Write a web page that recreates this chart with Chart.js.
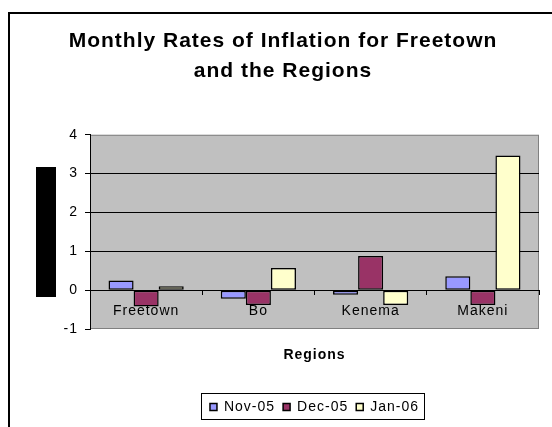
<!DOCTYPE html>
<html>
<head>
<meta charset="utf-8">
<script src="https://cdn.jsdelivr.net/npm/chart.js@4.4.0/dist/chart.umd.min.js"></script>
<style>
  html, body { margin: 0; padding: 0; background: #fff; overflow: hidden; }
  #chart { display: block; }
</style>
</head>
<body>
<canvas id="chart" width="552" height="427"></canvas>
<script>
const regions = ["Freetown", "Bo", "Kenema", "Makeni"];
const seriesNames = ["Nov-05", "Dec-05", "Jan-06"];
const nov05 = [0.25, -0.22, -0.12, 0.36];
const dec05 = [-0.42, -0.38, 0.88, -0.38];
const jan06 = [0.1, 0.57, -0.38, 3.47];
const yMin = -1;
const yMax = 4;
const yStep = 1;

const colors = ["#9999FF", "#993366", "#FFFFCC"];
const font = "'Liberation Sans', Arial, sans-serif";

// excel-ish text: a bit of tracking on everything
function spacing(chart) {
    chart.ctx.letterSpacing = "1px";
}

const decor = {
    id: "decor",
    beforeUpdate: spacing,
    beforeLayout: spacing,
    beforeDraw(chart) {
        const ctx = chart.ctx;
        const a = chart.chartArea;
        spacing(chart);
        ctx.save();
        ctx.fillStyle = "#fff";
        ctx.fillRect(0, 0, chart.width, chart.height);
        // outer frame (runs off the right / bottom)
        ctx.fillStyle = "#000";
        ctx.fillRect(8, 12, 2, chart.height);
        ctx.fillRect(8, 12, chart.width, 2);
        // blacked out axis title
        ctx.fillRect(36, 167, 20, 130);
        // plot area
        ctx.fillStyle = "#C0C0C0";
        ctx.fillRect(a.left, a.top, a.right - a.left, a.bottom - a.top);
        ctx.strokeStyle = "#808080";
        ctx.lineWidth = 1;
        ctx.strokeRect(a.left + 0.5, a.top + 0.5, a.right - a.left - 1, a.bottom - a.top - 1);
        ctx.restore();
    },
    afterDraw(chart) {
        const boxes = chart.legend.legendHitBoxes;
        if (!boxes || !boxes.length) return;
        const ctx = chart.ctx;
        let l = Infinity, r = -Infinity, t = Infinity, b = -Infinity;
        boxes.forEach(h => {
            l = Math.min(l, h.left); r = Math.max(r, h.left + h.width);
            t = Math.min(t, h.top); b = Math.max(b, h.top + h.height);
        });
        ctx.save();
        ctx.strokeStyle = "#000";
        ctx.lineWidth = 1;
        ctx.strokeRect(Math.round(l - 9) + 0.5, Math.round(t - 7) + 0.5, Math.round(r - l + 14), Math.round(b - t + 12));
        ctx.restore();
    }
};

const datasets = [nov05, dec05, jan06].map((vals, i) => ({
    label: seriesNames[i],
    data: vals,
    backgroundColor: colors[i],
    borderColor: "#000",
    borderWidth: 1.5,
    borderSkipped: false,
    categoryPercentage: 0.67,
    barPercentage: 1,
    xAxisID: "x",
    yAxisID: "y"
}));

new Chart(document.getElementById("chart"), {
    type: "bar",
    data: { labels: regions, datasets: datasets },
    plugins: [decor],
    options: {
        responsive: false,
        animation: false,
        layout: { padding: { left: 27, right: 13, top: 0, bottom: 3 } },
        plugins: {
            title: {
                display: true,
                text: ["Monthly Rates of Inflation for Freetown", "and the Regions"],
                color: "#000",
                font: { family: font, size: 21, weight: "bold", lineHeight: 1.4 },
                padding: { top: 27, bottom: 49 }
            },
            legend: {
                position: "bottom",
                fullSize: false,
                labels: {
                    color: "#000",
                    font: { family: font, size: 14 },
                    boxWidth: 7,
                    boxHeight: 7,
                    padding: 8
                }
            },
            tooltip: { enabled: false }
        },
        scales: {
            x: {
                position: { y: 0 },
                grid: {
                    offset: true,
                    drawOnChartArea: false,
                    drawTicks: true,
                    tickLength: 4,
                    tickColor: "#000"
                },
                border: { display: true, color: "#000", width: 1 },
                ticks: {
                    color: "#000",
                    font: { family: font, size: 14 },
                    padding: 9,
                    maxRotation: 0
                }
            },
            x2: {
                type: "category",
                position: "bottom",
                grid: { display: false, drawTicks: false },
                border: { display: false },
                ticks: { display: false },
                title: {
                    display: true,
                    text: "Regions",
                    color: "#000",
                    font: { family: font, size: 14, weight: "bold" },
                    padding: { top: 0, bottom: 28 }
                },
                afterFit(s) { s.height = 63; }
            },
            y: {
                min: yMin,
                max: yMax,
                grid: {
                    color: c => (c.tick && (c.tick.value === yMin || c.tick.value === yMax)) ? "rgba(0,0,0,0)" : "#000",
                    tickColor: "#000",
                    tickLength: 5,
                    lineWidth: 1
                },
                border: { display: true, color: "#000", width: 1 },
                ticks: {
                    stepSize: yStep,
                    color: "#000",
                    font: { family: font, size: 14 },
                    padding: 7
                },
                afterFit(s) { s.width = 63; }
            }
        }
    }
});
</script>
</body>
</html>
